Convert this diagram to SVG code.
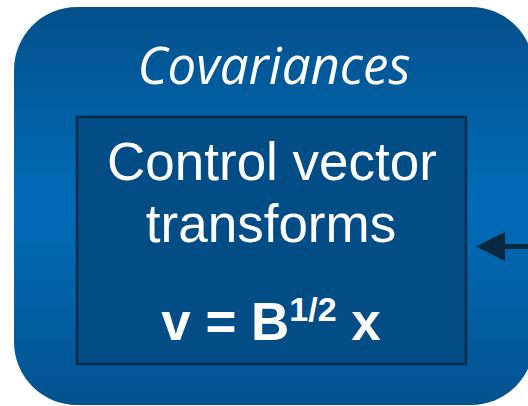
<svg xmlns="http://www.w3.org/2000/svg" width="528" height="406" viewBox="0 0 528 406">
<defs>
<linearGradient id="outerGrad" x1="0" y1="0" x2="0" y2="1">
<stop offset="0" stop-color="#03508A"/>
<stop offset="0.5" stop-color="#006CB8"/>
<stop offset="1" stop-color="#03528E"/>
</linearGradient>
<style>
.title{font-family:"Open Sans","Noto Sans",sans-serif;font-style:italic;fill:#FFFFFF;}
.body{font-family:"Liberation Sans",Arial,sans-serif;fill:#FFFFFF;}
</style>
</defs>
<rect width="528" height="406" fill="#FFFFFF"/>
<g id="covariances">
<rect x="14" y="7" width="520" height="398" rx="63" ry="63" fill="url(#outerGrad)"/>
<text class="title" x="274" y="84" font-size="51" text-anchor="middle">Covariances</text>
</g>
<g id="control-vector-transforms">
<rect x="77" y="117" width="389" height="247" fill="#024D86" stroke="#0B2D4D" stroke-width="2.5"/>
<text class="body" x="272" y="180" font-size="53" text-anchor="middle">Control vector</text>
<text class="body" x="271" y="242" font-size="53" text-anchor="middle">transforms</text>
<text class="body" x="271" y="340" font-size="53" font-weight="bold" text-anchor="middle">v = B<tspan font-size="34" dy="-19">1/2</tspan><tspan dy="19"> x</tspan></text>
</g>
<g id="connectors">
<line x1="528" y1="246.5" x2="500" y2="246.5" stroke="#0A2740" stroke-width="5"/>
<path d="M476,246.5 L505,232 L505,261 Z" fill="#0A2740"/>
</g>
</svg>
